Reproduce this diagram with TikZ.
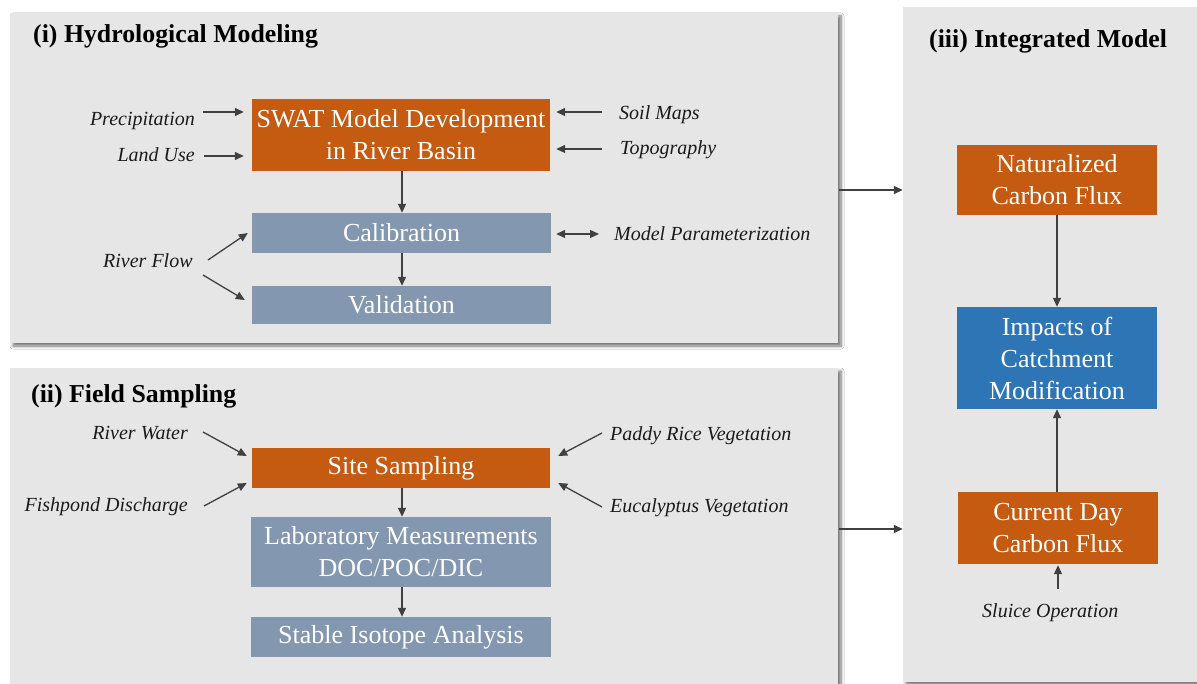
\documentclass[tikz,border=0pt]{standalone}
\usepackage{fontspec}
\setmainfont{Liberation Serif}
\usetikzlibrary{arrows.meta,calc,shadows.blur}

\definecolor{panelgray}{HTML}{E7E6E6}
\definecolor{rust}{HTML}{C55A11}
\definecolor{slate}{HTML}{8497B0}
\definecolor{ocean}{HTML}{2E75B6}
\definecolor{inkgray}{HTML}{404040}
\definecolor{labelink}{HTML}{1A1A1A}

\begin{document}
\begin{tikzpicture}[x=1pt,y=-1pt,
  panel/.style={rectangle, fill=panelgray, draw=none, inner sep=0pt,
    blur shadow={shadow xshift=3pt, shadow yshift=-3pt, shadow blur steps=8,
      shadow blur radius=3pt, shadow opacity=55}},
  boxbase/.style={rectangle, inner sep=2pt, text=white, align=center,
    font=\fontsize{26}{32}\selectfont},
  orangebox/.style={boxbase, fill=rust},
  slatebox/.style={boxbase, fill=slate},
  bluebox/.style={boxbase, fill=ocean},
  inlabel/.style={inner sep=0pt, text=labelink,
    font=\fontsize{20}{24}\selectfont\itshape},
  paneltitle/.style={inner sep=0pt, text=black,
    font=\fontsize{25.8}{30}\selectfont\bfseries},
  arr/.style={draw=inkgray, line width=1.3pt,
    -{Triangle[length=9pt,width=8pt]}},
  biarr/.style={draw=inkgray, line width=1.3pt,
    {Triangle[length=9pt,width=8pt]}-{Triangle[length=9pt,width=8pt]}}
]
\useasboundingbox (0,0) rectangle (1197,684);
\clip (0,0) rectangle (1197,684);
\fill[white] (0,0) rectangle (1197,684);

% ---------- panels ----------
\node[panel, minimum width=828pt, minimum height=330pt] (hydro) at (424,178) {};
\node[panel, minimum width=828pt, minimum height=332pt] (field) at (424,534) {};
\node[panel, minimum width=302pt, minimum height=675pt] (integ) at (1054,344.5) {};

\node[paneltitle, anchor=base west] (t1) at (33,43) {(i) Hydrological Modeling};
\node[paneltitle, anchor=base west] (t2) at (31,403) {(ii) Field Sampling};
\node[paneltitle, anchor=base west] (t3) at (929,48) {(iii) Integrated Model};

% ---------- (i) hydrological modeling ----------
\node[orangebox, minimum width=298pt, minimum height=72pt] (swat) at (401,135)
  {SWAT Model Development\\in River Basin};
\node[slatebox, minimum width=299pt, minimum height=40pt] (calib) at (401.5,233) {Calibration};
\node[slatebox, minimum width=299pt, minimum height=38pt] (valid) at (401.5,305) {Validation};

\node[inlabel, anchor=base east] (prec) at (195,125.7) {Precipitation};
\node[inlabel, anchor=base east] (luse) at (195,161.7) {Land Use};
\node[inlabel, anchor=base west] (soil) at (619,120) {Soil Maps};
\node[inlabel, anchor=base west] (topo) at (620,155) {Topography};
\node[inlabel, anchor=base west] (param) at (614,241) {Model Parameterization};
\node[inlabel, anchor=base west] (rflow) at (103,268) {River Flow};

\coordinate (precA) at (203,112);
\coordinate (luseA) at (204,156);
\coordinate (soilA) at (602,112);
\coordinate (topoA) at (602,149);
\coordinate (paramA) at (599,234);
\coordinate (rflowA) at (208,260);
\coordinate (rflowB) at (203,275);

\draw[arr, shorten >=8pt] (precA) -- (precA -| swat.west);
\draw[arr, shorten >=8pt] (luseA) -- (luseA -| swat.west);
\draw[arr, shorten >=6pt] (soilA) -- (soilA -| swat.east);
\draw[arr, shorten >=6pt] (topoA) -- (topoA -| swat.east);
\draw[biarr, shorten >=5pt] (paramA) -- (paramA -| calib.east);
\draw[arr] (rflowA) -- ($(calib.west)+(-4,0)$);
\draw[arr] (rflowB) -- ($(valid.west)+(-7,-5)$);
\draw[arr] (swat.south -| 402,0) -- (calib.north -| 402,0);
\draw[arr] (calib.south -| 402,0) -- (valid.north -| 402,0);

% ---------- (ii) field sampling ----------
\node[orangebox, minimum width=298pt, minimum height=40pt] (site) at (401,468) {Site Sampling};
\node[slatebox, minimum width=300pt, minimum height=70pt] (lab) at (401,552)
  {Laboratory Measurements\\DOC/POC/DIC};
\node[slatebox, minimum width=300pt, minimum height=40pt] (iso) at (401,637) {Stable Isotope Analysis};

\node[inlabel, anchor=base east] (rwater) at (188,439) {River Water};
\node[inlabel, anchor=base east] (fish) at (188,511) {Fishpond Discharge};
\node[inlabel, anchor=base west] (paddy) at (610,441) {Paddy Rice Vegetation};
\node[inlabel, anchor=base west] (euca) at (610,512) {Eucalyptus Vegetation};

\coordinate (rwaterA) at (203,432);
\coordinate (fishA) at (204,506);
\coordinate (paddyA) at (602,433);
\coordinate (eucaA) at (602,507);

\draw[arr] (rwaterA) -- ($(site.west)+(-5,-12)$);
\draw[arr] (fishA) -- ($(site.west)+(-5,15)$);
\draw[arr] (paddyA) -- ($(site.east)+(8,-12)$);
\draw[arr] (eucaA) -- ($(site.east)+(8,15)$);
\draw[arr] (site.south -| 402,0) -- (lab.north -| 402,0);
\draw[arr] (lab.south -| 402,0) -- (iso.north -| 402,0);

% ---------- (iii) integrated model ----------
\node[orangebox, minimum width=200pt, minimum height=70pt] (natural) at (1057,180)
  {Naturalized\\Carbon Flux};
\node[bluebox, minimum width=200pt, minimum height=102pt] (impact) at (1057,358)
  {Impacts of\\Catchment\\Modification};
\node[orangebox, minimum width=200pt, minimum height=72pt] (current) at (1058,528)
  {Current Day\\Carbon Flux};
\node[inlabel, anchor=base west] (sluice) at (982,617) {Sluice Operation};

\coordinate (sluiceA) at (1058,589);

\draw[arr] (natural.south -| 1057,0) -- (impact.north -| 1057,0);
\draw[arr] (current.north -| 1057,0) -- (impact.south -| 1057,0);
\draw[arr, shorten >=1pt] (sluiceA) -- (sluiceA |- current.south);

% ---------- links between panels ----------
\coordinate (hydroOut) at (839,190);
\coordinate (fieldOut) at (839,529);
\draw[arr] (hydroOut) -- (hydroOut -| integ.west);
\draw[arr] (fieldOut) -- (fieldOut -| integ.west);
\end{tikzpicture}
\end{document}
